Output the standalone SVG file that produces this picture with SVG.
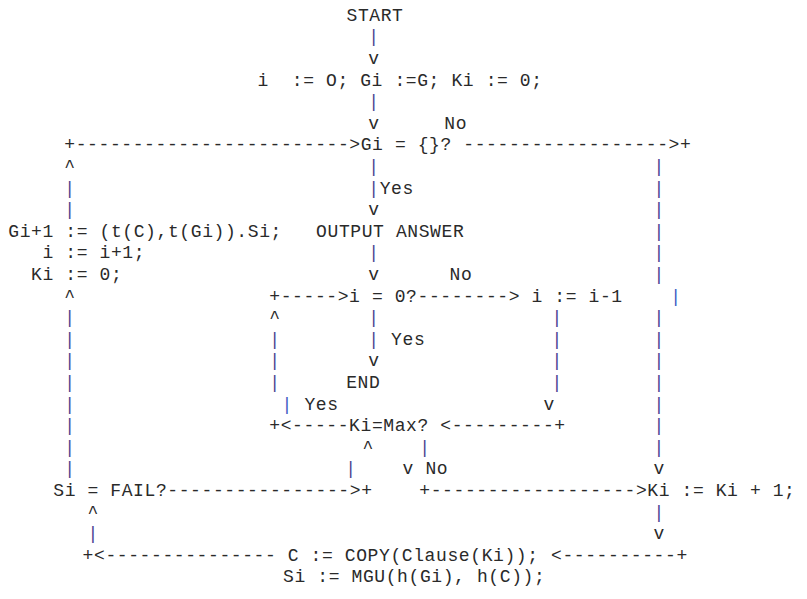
<svg xmlns="http://www.w3.org/2000/svg" width="807" height="599" viewBox="0 0 807 599" xml:space="preserve">
<style>
text { font-family: "Liberation Mono", "DejaVu Sans Mono", monospace; font-size: 18px; letter-spacing: 0.6px; fill: #2a2a2a; white-space: pre; }
.b { fill: #4b3f92; }
.bb { fill: #3d5cc4; }
</style>
<rect width="807" height="599" fill="#ffffff"/>
<g id="connectors">
<text x="368.3" y="42.3" class="b">|</text>
<text x="368.3" y="63.9">v</text>
<text x="368.3" y="107.1" class="b">|</text>
<text x="368.3" y="128.7">v</text>
<text x="64.3" y="150.3">+------------------------&gt;</text>
<text x="463.3" y="150.3">------------------&gt;+</text>
<text x="64.3" y="171.9">^</text>
<text x="368.3" y="171.9" class="b">|</text>
<text x="653.6" y="171.9" class="b">|</text>
<text x="64.3" y="193.5" class="b">|</text>
<text x="368.3" y="193.5" class="b">|</text>
<text x="653.6" y="193.5" class="b">|</text>
<text x="64.3" y="215.1" class="b">|</text>
<text x="368.3" y="215.1">v</text>
<text x="653.6" y="215.1" class="b">|</text>
<text x="653.6" y="236.7" class="b">|</text>
<text x="368.3" y="258.3" class="b">|</text>
<text x="653.6" y="258.3" class="b">|</text>
<text x="368.3" y="279.9">v</text>
<text x="653.6" y="279.9" class="b">|</text>
<text x="64.3" y="301.5">^</text>
<text x="269.3" y="301.5">+-----&gt;</text>
<text x="417.5" y="301.5">--------&gt;</text>
<text x="670.3" y="301.5" class="bb">|</text>
<text x="64.3" y="323.1" class="b">|</text>
<text x="269.3" y="323.1">^</text>
<text x="368.3" y="323.1" class="b">|</text>
<text x="551.6" y="323.1" class="b">|</text>
<text x="653.6" y="323.1" class="b">|</text>
<text x="64.3" y="344.7" class="b">|</text>
<text x="269.3" y="344.7" class="b">|</text>
<text x="368.3" y="344.7" class="b">|</text>
<text x="551.6" y="344.7" class="b">|</text>
<text x="653.6" y="344.7" class="b">|</text>
<text x="64.3" y="366.3" class="b">|</text>
<text x="269.3" y="366.3" class="b">|</text>
<text x="368.3" y="366.3">v</text>
<text x="551.6" y="366.3" class="b">|</text>
<text x="653.6" y="366.3" class="b">|</text>
<text x="64.3" y="387.9" class="b">|</text>
<text x="269.3" y="387.9" class="b">|</text>
<text x="551.6" y="387.9" class="b">|</text>
<text x="653.6" y="387.9" class="b">|</text>
<text x="64.3" y="409.5" class="b">|</text>
<text x="281.6" y="409.5" class="bb">|</text>
<text x="543.6" y="409.5">v</text>
<text x="653.6" y="409.5" class="b">|</text>
<text x="64.3" y="431.1" class="b">|</text>
<text x="269.3" y="431.1">+&lt;-----</text>
<text x="440.3" y="431.1">&lt;---------+</text>
<text x="653.6" y="431.1" class="b">|</text>
<text x="64.3" y="452.7" class="b">|</text>
<text x="362.6" y="452.7">^</text>
<text x="419.3" y="452.7" class="b">|</text>
<text x="653.6" y="452.7" class="b">|</text>
<text x="64.3" y="474.3" class="b">|</text>
<text x="345.3" y="474.3" class="b">|</text>
<text x="402.6" y="474.3">v</text>
<text x="653.6" y="474.3">v</text>
<text x="167.3" y="495.9">----------------&gt;+</text>
<text x="419.3" y="495.9">+------------------&gt;</text>
<text x="87.6" y="517.5">^</text>
<text x="653.6" y="517.5" class="b">|</text>
<text x="87.6" y="539.1" class="b">|</text>
<text x="653.6" y="539.1">v</text>
<text x="82.6" y="560.7">+&lt;---------------</text>
<text x="551" y="560.7">&lt;----------+</text>
</g>
<g id="labels">
<text x="444.3" y="128.7">No</text>
<text x="379.7" y="193.5">Yes</text>
<text x="449.5" y="279.9">No</text>
<text x="391.1" y="344.7">Yes</text>
<text x="304.4" y="409.5">Yes</text>
<text x="425.4" y="474.3">No</text>
</g>
<g id="n-start"><text x="346.5" y="20.7">START</text></g>
<g id="n-init"><text x="257.6" y="85.5">i  := O; Gi :=G; Ki := 0;</text></g>
<g id="n-test-empty"><text x="360.7" y="150.3">Gi = {}?</text></g>
<g id="n-update">
<text x="8.3" y="236.7">Gi+1 := (t(C),t(Gi)).Si;</text>
<text x="42.5" y="258.3">i := i+1;</text>
<text x="31.1" y="279.9">Ki := 0;</text>
</g>
<g id="n-output"><text x="316.1" y="236.7">OUTPUT ANSWER</text></g>
<g id="n-test-i"><text x="349.1" y="301.5">i = 0?</text></g>
<g id="n-decrement"><text x="531.5" y="301.5">i := i-1</text></g>
<g id="n-end"><text x="346.2" y="387.9">END</text></g>
<g id="n-test-max"><text x="349.1" y="431.1">Ki=Max?</text></g>
<g id="n-test-fail"><text x="53.3" y="495.9">Si = FAIL?</text></g>
<g id="n-increment"><text x="647.3" y="495.9">Ki := Ki + 1;</text></g>
<g id="n-copy">
<text x="287.8" y="560.7">C := COPY(Clause(Ki));</text>
<text x="283.1" y="582.3">Si := MGU(h(Gi), h(C));</text>
</g>
</svg>
